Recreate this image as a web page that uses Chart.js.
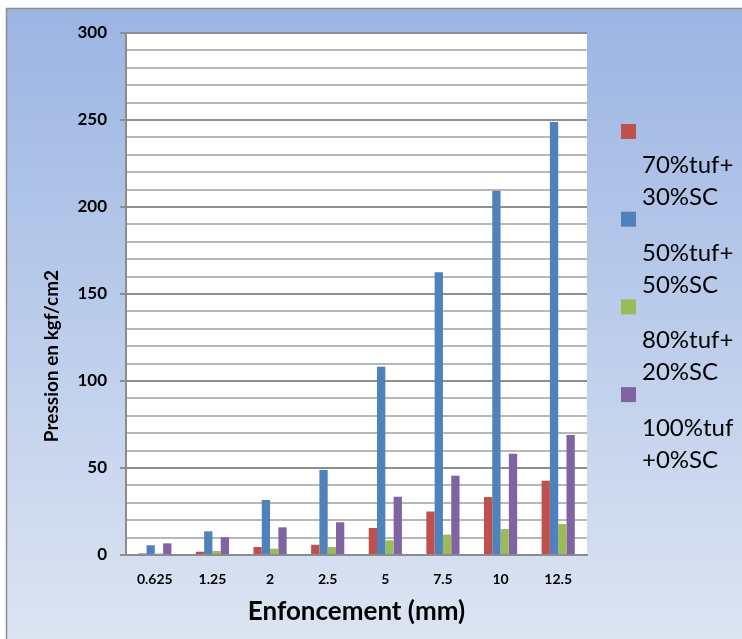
<!DOCTYPE html>
<html>
<head>
<meta charset="utf-8">
<script src="https://cdn.jsdelivr.net/npm/chart.js@4/dist/chart.umd.min.js"></script>
<style>
  html, body { margin: 0; padding: 0; background: #ffffff; }
  #wrap { width: 742px; height: 639px; }
</style>
</head>
<body>
<div id="wrap"><canvas id="c" width="742" height="639"></canvas></div>
<script>
// Penetration depth (mm) and measured pressure for each mix
const categories = ['0.625', '1.25', '2', '2.5', '5', '7.5', '10', '12.5'];
const mix70 = [0.9, 1.9, 4.6, 5.9, 15.5, 25.0, 33.3, 42.7];
const mix50 = [5.6, 13.6, 31.6, 48.9, 108.2, 162.5, 209.4, 248.9];
const mix80 = [0.8, 2.3, 3.6, 4.6, 8.4, 11.7, 14.9, 17.8];
const mix100 = [6.7, 10.2, 15.9, 18.8, 33.5, 45.6, 58.2, 69.0];
const seriesNames = [['70%tuf+', '30%SC'], ['50%tuf+', '50%SC'], ['80%tuf+', '20%SC'], ['100%tuf', '+0%SC']];
const seriesColors = ['#C0504D', '#4F81BD', '#9BBB59', '#8064A2'];
const yTitle = 'Pression en kgf/cm2';
const xTitle = 'Enfoncement (mm)';

const FONT = 'Lato, "Open Sans", "DejaVu Sans", sans-serif';

// Framed gradient background, white plot area, titles and a wrapped legend
const decor = {
  id: 'decor',
  beforeDraw(chart) {
    const ctx = chart.ctx;
    const a = chart.chartArea;
    ctx.save();
    const g = ctx.createLinearGradient(0, 8, 0, 639);
    g.addColorStop(0, '#9BB5E3');
    g.addColorStop(1, '#DCE4F2');
    ctx.fillStyle = g;
    ctx.fillRect(6, 8, 736, 631);
    ctx.strokeStyle = '#8C8C8C';
    ctx.lineWidth = 1.5;
    ctx.beginPath();
    ctx.moveTo(6.5, 639);
    ctx.lineTo(6.5, 8.5);
    ctx.lineTo(742, 8.5);
    ctx.stroke();
    ctx.fillStyle = '#FFFFFF';
    ctx.fillRect(a.left, a.top, a.right - a.left, a.bottom - a.top);
    ctx.restore();
  },
  afterDraw(chart) {
    const ctx = chart.ctx;
    const a = chart.chartArea;
    ctx.save();
    ctx.fillStyle = '#000000';
    // axis titles
    ctx.font = 'bold 19px ' + FONT;
    ctx.textAlign = 'center';
    ctx.textBaseline = 'middle';
    ctx.translate(52, 356);
    ctx.rotate(-Math.PI / 2);
    ctx.fillText(yTitle, 0, 0);
    ctx.setTransform(1, 0, 0, 1, 0, 0);
    ctx.font = 'bold 26px ' + FONT;
    ctx.textBaseline = 'alphabetic';
    ctx.fillText(xTitle, (a.left + a.right) / 2, 620);
    // legend
    ctx.textAlign = 'left';
    ctx.font = '24px ' + FONT;
    chart.data.datasets.forEach((ds, i) => {
      const y0 = 124 + i * 87.7;
      ctx.fillStyle = ds.backgroundColor;
      ctx.fillRect(621, y0, 15, 15);
      ctx.fillStyle = '#000000';
      seriesNames[i].forEach((line, j) => {
        ctx.fillText(line, 642, y0 + 49 + j * 32);
      });
    });
    ctx.restore();
  }
};

const values = [mix70, mix50, mix80, mix100];

new Chart(document.getElementById('c'), {
  type: 'bar',
  data: {
    labels: categories,
    datasets: values.map((v, i) => ({
      label: seriesNames[i].join(''),
      data: v,
      backgroundColor: seriesColors[i],
      borderWidth: 0,
      barPercentage: 1,
      categoryPercentage: 0.576
    }))
  },
  options: {
    responsive: false,
    devicePixelRatio: 1,
    animation: false,
    layout: { padding: { left: 0, top: 33, right: 155, bottom: 0 } },
    plugins: {
      legend: { display: false },
      tooltip: { enabled: false }
    },
    scales: {
      x: {
        grid: { display: false, drawTicks: false },
        border: { display: true, color: '#8C8C8C', width: 2 },
        ticks: {
          padding: 16,
          color: '#000000',
          font: { family: FONT, size: 14, weight: 'bold' },
          maxRotation: 0
        },
        afterFit(scale) { scale.height = 84; }
      },
      y: {
        min: 0,
        max: 300,
        grid: {
          color: (c) => (c.tick && c.tick.value % 50 === 0) ? '#8E8E8E' : '#B8B8B8',
          lineWidth: 2,
          tickLength: 6,
          tickColor: (c) => (c.tick && c.tick.value % 50 === 0) ? '#8E8E8E' : 'rgba(0,0,0,0)'
        },
        border: { display: true, color: '#8C8C8C', width: 2 },
        ticks: {
          stepSize: 10,
          autoSkip: false,
          padding: 13,
          color: '#000000',
          font: { family: FONT, size: 17, weight: 'bold' },
          callback: (v) => (v % 50 === 0 ? v : '')
        },
        afterFit(scale) { scale.width = 126; }
      }
    }
  },
  plugins: [decor]
});
</script>
</body>
</html>
